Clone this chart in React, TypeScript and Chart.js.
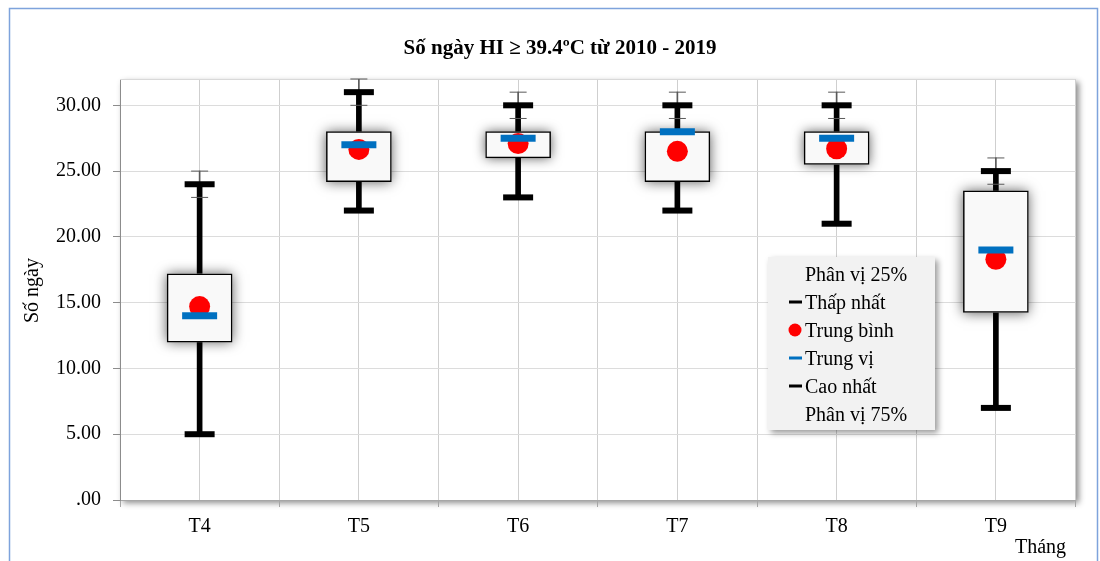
import { useEffect, useRef } from 'react';
import { Chart, registerables } from 'chart.js';

Chart.register(...registerables);

const categories = ['T4', 'T5', 'T6', 'T7', 'T8', 'T9'];
const minValues = [5, 22, 23, 22, 21, 7];
const q1Values = [12, 24.2, 26, 24.2, 25.5, 14.25];
const medianValues = [14, 27, 27.5, 28, 27.5, 19];
const meanValues = [14.7, 26.65, 27.1, 26.5, 26.7, 18.3];
const q3Values = [17.2, 28, 28, 28, 28, 23.5];
const maxValues = [24, 31, 30, 30, 30, 25];
const errHighValues = [25, 32, 31, 31, 31, 26];
const errLowValues = [23, 30, 29, 29, 29, 24];
const yTicks = [0, 5, 10, 15, 20, 25, 30];
const legendLabels = ['Phân vị 25%', 'Thấp nhất', 'Trung bình', 'Trung vị', 'Cao nhất', 'Phân vị 75%'];
const titleText = 'Số ngày HI ≥ 39.4ºC từ 2010 - 2019';
const yTitle = 'Số ngày';
const xTitle = 'Tháng';

const FONT = "'Liberation Serif', 'Times New Roman', serif";
const BLACK = '#000000';
const RED = '#ff0000';
const BLUE = '#0070c0';
const THIN = '#595959';
const BOX_FILL = '#f9f9f9';

const pts = (vals: number[]) => vals.map((v, i) => ({ x: i, y: v }));
const ranges = (lo: number[], hi: number[]) => lo.map((v, i) => ({ x: i, y: [v, hi[i]] }));

const decorPlugin = {
  id: 'decor',
  beforeDraw(chart: any) {
    const { ctx, chartArea: a } = chart;
    ctx.save();
    ctx.fillStyle = '#ffffff';
    ctx.fillRect(0, 0, chart.width, chart.height);
    ctx.strokeStyle = '#7ea3dc';
    ctx.lineWidth = 1.5;
    ctx.beginPath();
    ctx.moveTo(9.5, chart.height);
    ctx.lineTo(9.5, 8.5);
    ctx.lineTo(1097.5, 8.5);
    ctx.lineTo(1097.5, chart.height);
    ctx.stroke();
    ctx.shadowColor = 'rgba(0,0,0,0.45)';
    ctx.shadowBlur = 6;
    ctx.shadowOffsetX = 3;
    ctx.shadowOffsetY = 3;
    ctx.fillRect(a.left, a.top, a.width, a.height);
    ctx.restore();
  },
  beforeDatasetsDraw(chart: any) {
    const { ctx, chartArea: a } = chart;
    ctx.save();
    ctx.strokeStyle = '#d9d9d9';
    ctx.lineWidth = 1;
    ctx.beginPath();
    ctx.moveTo(a.left, a.top + 0.5);
    ctx.lineTo(a.right, a.top + 0.5);
    ctx.stroke();
    ctx.restore();
  },
  beforeDatasetDraw(chart: any, args: any) {
    const ds = chart.data.datasets[args.index];
    if (ds.label !== 'box') return;
    const ctx = chart.ctx;
    ctx.save();
    ctx.shadowColor = 'rgba(0,0,0,0.65)';
    ctx.shadowBlur = 12;
    ctx.shadowOffsetX = 0;
    ctx.shadowOffsetY = 0;
    ctx.fillStyle = BOX_FILL;
    args.meta.data.forEach((el: any) => {
      const { x, y, base, width } = el.getProps(['x', 'y', 'base', 'width'], true);
      ctx.fillRect(x - width / 2, Math.min(y, base), width, Math.abs(base - y));
    });
    ctx.restore();
  },
  afterDraw(chart: any) {
    const { ctx, chartArea: a } = chart;
    ctx.save();
    // title
    ctx.fillStyle = BLACK;
    ctx.font = `bold 21px ${FONT}`;
    ctx.textAlign = 'center';
    ctx.textBaseline = 'alphabetic';
    ctx.fillText(titleText, 560, 54);
    // y title
    ctx.save();
    ctx.font = `20px ${FONT}`;
    ctx.translate(38, (a.top + a.bottom) / 2 + 1);
    ctx.rotate(-Math.PI / 2);
    ctx.fillText(yTitle, 0, 0);
    ctx.restore();
    // x title
    ctx.font = `20px ${FONT}`;
    ctx.textAlign = 'left';
    ctx.fillText(xTitle, 1015, 553);
    // legend
    ctx.save();
    ctx.shadowColor = 'rgba(0,0,0,0.4)';
    ctx.shadowBlur = 6;
    ctx.shadowOffsetX = 3;
    ctx.shadowOffsetY = 3;
    ctx.fillStyle = '#f2f2f2';
    ctx.fillRect(768, 257, 167, 173);
    ctx.restore();
    const base0 = 281;
    const step = 28;
    legendLabels.forEach((lab, i) => {
      const by = base0 + i * step;
      const cy = by - 7;
      if (i === 1 || i === 4) {
        ctx.fillStyle = BLACK;
        ctx.fillRect(789, cy - 1.5, 13, 3);
      } else if (i === 2) {
        ctx.fillStyle = RED;
        ctx.beginPath();
        ctx.arc(795, cy, 6.5, 0, Math.PI * 2);
        ctx.fill();
      } else if (i === 3) {
        ctx.fillStyle = BLUE;
        ctx.fillRect(789, cy - 1.5, 13, 3);
      }
      ctx.fillStyle = BLACK;
      ctx.font = `20px ${FONT}`;
      ctx.textAlign = 'left';
      ctx.fillText(lab, 805, by);
    });
    ctx.restore();
  },
};

export default function App() {
  const ref = useRef<HTMLCanvasElement | null>(null);

  useEffect(() => {
    if (!ref.current) return;
    const chart = new Chart(ref.current, {
      type: 'bar',
      data: {
        datasets: [
          {
            type: 'bar',
            label: 'thin',
            data: ranges(errLowValues, errHighValues),
            backgroundColor: THIN,
            barThickness: 1,
            grouped: false,
            order: 10,
          } as any,
          {
            type: 'bar',
            label: 'whisker',
            data: ranges(minValues, maxValues),
            backgroundColor: BLACK,
            barThickness: 5,
            grouped: false,
            order: 9,
          } as any,
          {
            type: 'bar',
            label: 'box',
            data: ranges(q1Values, q3Values),
            backgroundColor: BOX_FILL,
            borderColor: BLACK,
            borderWidth: 1.5,
            borderSkipped: false,
            barThickness: 65,
            grouped: false,
            order: 8,
          } as any,
          {
            type: 'line',
            label: 'Trung bình',
            data: pts(meanValues),
            showLine: false,
            pointStyle: 'circle',
            pointRadius: 10.5,
            pointBackgroundColor: RED,
            pointBorderWidth: 0,
            pointBorderColor: RED,
            clip: false,
            order: 7,
          } as any,
          {
            type: 'line',
            label: 'Trung vị',
            data: pts(medianValues),
            showLine: false,
            pointStyle: 'line',
            pointRadius: 17.5,
            pointBorderWidth: 7,
            pointBorderColor: BLUE,
            clip: false,
            order: 6,
          } as any,
          {
            type: 'line',
            label: 'Thấp nhất',
            data: pts(minValues),
            showLine: false,
            pointStyle: 'line',
            pointRadius: 15,
            pointBorderWidth: 6,
            pointBorderColor: BLACK,
            clip: false,
            order: 5,
          } as any,
          {
            type: 'line',
            label: 'Cao nhất',
            data: pts(maxValues),
            showLine: false,
            pointStyle: 'line',
            pointRadius: 15,
            pointBorderWidth: 6,
            pointBorderColor: BLACK,
            clip: false,
            order: 5,
          } as any,
          {
            type: 'line',
            label: 'errHigh',
            data: pts(errHighValues),
            showLine: false,
            pointStyle: 'line',
            pointRadius: 8.5,
            pointBorderWidth: 1,
            pointBorderColor: THIN,
            clip: false,
            order: 4,
          } as any,
          {
            type: 'line',
            label: 'errLow',
            data: pts(errLowValues),
            showLine: false,
            pointStyle: 'line',
            pointRadius: 8.5,
            pointBorderWidth: 1,
            pointBorderColor: THIN,
            clip: false,
            order: 4,
          } as any,
        ],
      },
      options: {
        responsive: false,
        animation: false,
        events: [],
        layout: { padding: { top: 79, right: 20, left: 0, bottom: 0 } },
        plugins: {
          legend: { display: false },
          tooltip: { enabled: false },
          title: { display: false },
        },
        scales: {
          x: {
            type: 'linear',
            min: -0.5,
            max: categories.length - 0.5,
            offset: false,
            afterFit: (s: any) => {
              s.height = 61;
            },
            afterBuildTicks: (s: any) => {
              const t: any[] = [];
              categories.forEach((_, i) => {
                t.push({ value: i - 0.5 });
                t.push({ value: i });
              });
              t.push({ value: categories.length - 0.5 });
              s.ticks = t;
            },
            grid: {
              offset: false,
              color: '#cfcfcf',
              tickLength: 7,
              tickColor: (c: any) => (c.tick && Number.isInteger(c.tick.value) ? 'rgba(0,0,0,0)' : '#a6a6a6'),
            },
            border: { color: '#a6a6a6' },
            ticks: {
              autoSkip: false,
              maxRotation: 0,
              padding: 8,
              color: BLACK,
              font: { family: FONT, size: 20 },
              callback: (v: any) => (Number.isInteger(v) ? categories[v] : ''),
            },
          },
          y: {
            type: 'linear',
            min: 0,
            max: 32,
            afterFit: (s: any) => {
              s.width = 120;
            },
            afterBuildTicks: (s: any) => {
              s.ticks = yTicks.map((v) => ({ value: v }));
            },
            grid: {
              color: '#dcdcdc',
              tickLength: 7,
              tickColor: '#8c8c8c',
            },
            border: { color: '#8c8c8c' },
            ticks: {
              padding: 12,
              color: BLACK,
              font: { family: FONT, size: 20 },
              callback: (v: any) => (v === 0 ? '.00' : Number(v).toFixed(2)),
            },
          },
        },
      },
      plugins: [decorPlugin],
    } as any);
    return () => chart.destroy();
  }, []);

  return (
    <canvas
      ref={ref}
      width={1100}
      height={561}
      style={{ position: 'fixed', left: 0, top: 0, width: 1100, height: 561 }}
    />
  );
}
